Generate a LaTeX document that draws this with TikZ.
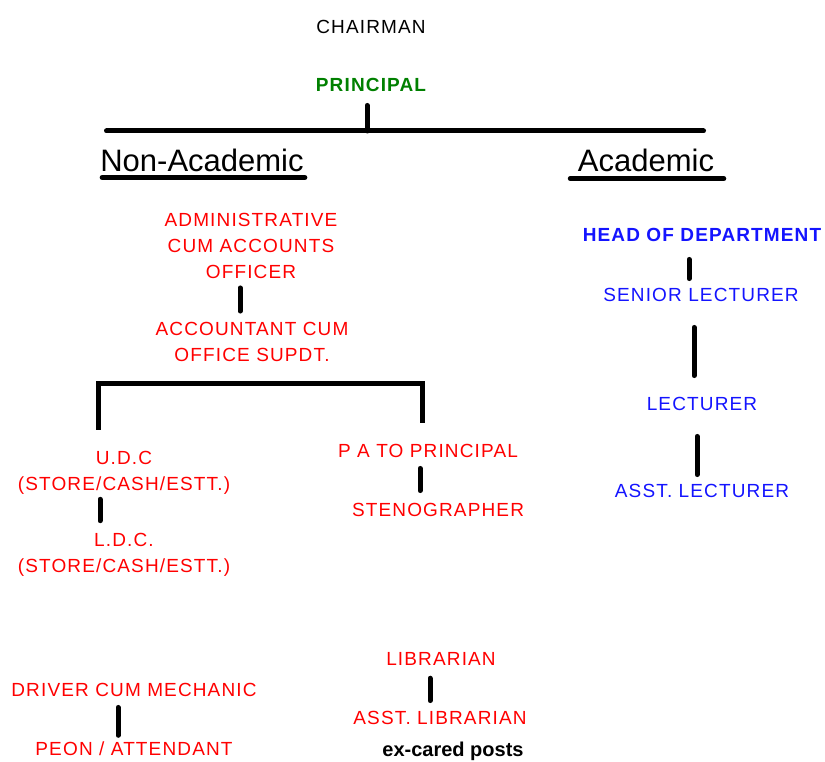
\documentclass[tikz,border=0pt]{standalone}
\usepackage{fontspec}
\setmainfont{Liberation Sans}
\newfontfamily\spaced[LetterSpace=6]{Liberation Sans}
\definecolor{pred}{RGB}{255,0,0}
\definecolor{pblue}{RGB}{20,20,255}
\definecolor{pgreen}{RGB}{0,128,0}
\begin{document}
\begin{tikzpicture}[x=1pt,y=1pt,
  lbl/.style={inner sep=0pt, align=center, font=\spaced\fontsize{19}{26}\selectfont},
  blbl/.style={inner sep=0pt, align=center, font=\spaced\bfseries\fontsize{19}{26}\selectfont},
  redlbl/.style={lbl, text=pred},
  bluelbl/.style={lbl, text=pblue},
  head/.style={inner sep=0pt, font=\fontsize{31}{36}\selectfont},
  bar/.style={line width=5pt, line cap=round}]
\useasboundingbox[fill=white] (0,0) rectangle (825,-762);

% top
\node[lbl] (chair) at (371,-27) {CHAIRMAN};
\node[blbl, text=pgreen] (prin) at (371,-85) {PRINCIPAL};
\coordinate (hl) at (106.5,-131);
\coordinate (hr) at (703.5,-131);
\draw[bar] (hl) -- (hr);
\draw[bar] ([xshift=-4pt,yshift=-13.5pt]prin.south) -- ([xshift=-4pt]prin.south |- hl);

\node[head] (nonac) at (202,-160) {Non-Academic};
\node[head] (acad) at (646,-160) {Academic};
\draw[bar] ([xshift=2pt,yshift=-6pt]nonac.south west) -- ([xshift=1pt,yshift=-6pt]nonac.south east);
\draw[bar] ([xshift=-7.5pt,yshift=-7pt]acad.south west) -- ([xshift=9.5pt,yshift=-7pt]acad.south east);

% non-academic
\node[redlbl] (admin) at (251,-246) {ADMINISTRATIVE\\CUM ACCOUNTS\\OFFICER};
\node[redlbl] (acct) at (252,-342) {ACCOUNTANT CUM\\OFFICE SUPDT.};
\draw[bar] ([xshift=-11pt,yshift=-9pt]admin.south) -- ([xshift=-12pt,yshift=11pt]acct.north);

\node[redlbl] (udc) at (124,-473) {U.D.C\\(STORE/CASH/ESTT.)};
\node[redlbl] (ldc) at (124,-555) {L.D.C.\\(STORE/CASH/ESTT.)};
\node[redlbl] (pa) at (428,-451) {P A TO PRINCIPAL};
\node[redlbl] (steno) at (438,-510) {STENOGRAPHER};

\coordinate (bl) at (98,-383);
\coordinate (br) at (422,-383);
\draw[bar, line cap=butt] ([yshift=21.5pt]udc.north -| bl) -- (bl) -- (br) -- ([yshift=21.5pt]pa.north -| br);
\draw[bar] ([xshift=-24pt,yshift=-4.5pt]udc.south) -- ([xshift=-24pt,yshift=12.5pt]ldc.north);
\draw[bar] ([xshift=-8pt,yshift=-10.5pt]pa.south) -- ([xshift=-18pt,yshift=12.5pt]steno.north);

\node[redlbl] (lib) at (441,-659) {LIBRARIAN};
\node[redlbl] (alib) at (440,-718) {ASST. LIBRARIAN};
\draw[bar] ([xshift=-11pt,yshift=-12.5pt]lib.south) -- ([xshift=-10pt,yshift=10.5pt]alib.north);

\node[redlbl] (driver) at (134,-690) {DRIVER CUM MECHANIC};
\node[redlbl] (peon) at (134,-749) {PEON / ATTENDANT};
\draw[bar] ([xshift=-16pt,yshift=-10.5pt]driver.south) -- ([xshift=-16pt,yshift=6.5pt]peon.north);

\node[inner sep=0pt, font=\bfseries\fontsize{20}{24}\selectfont] (ex) at (453,-751) {ex-cared posts};

% academic
\node[blbl, text=pblue] (hod) at (702,-235) {HEAD OF DEPARTMENT};
\node[bluelbl] (sl) at (701,-295) {SENIOR LECTURER};
\node[bluelbl] (lect) at (702,-404) {LECTURER};
\node[bluelbl] (al) at (702,-491) {ASST. LECTURER};
\draw[bar] ([xshift=-13pt,yshift=-17.5pt]hod.south) -- ([xshift=-12pt,yshift=9.5pt]sl.north);
\draw[bar] ([xshift=-7pt,yshift=-25.5pt]sl.south) -- ([xshift=-8pt,yshift=21.5pt]lect.north);
\draw[bar] ([xshift=-5pt,yshift=-25.5pt]lect.south) -- ([xshift=-5pt,yshift=9.5pt]al.north);
\end{tikzpicture}
\end{document}
